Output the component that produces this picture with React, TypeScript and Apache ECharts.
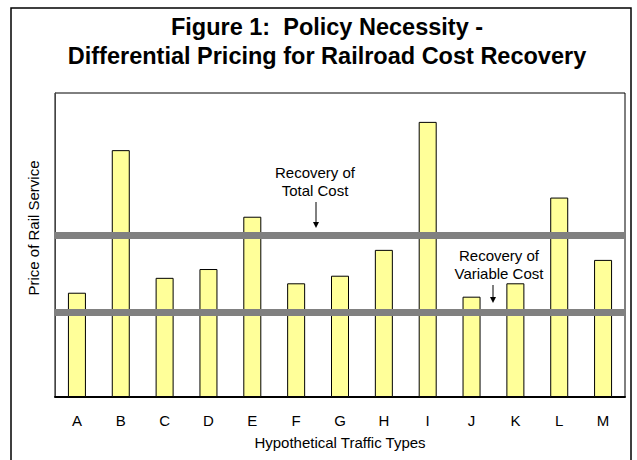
import React, { useEffect, useRef } from "react";
import * as echarts from "echarts";

const categories = ["A", "B", "C", "D", "E", "F", "G", "H", "I", "J", "K", "L", "M"];
const prices = [34.3, 81.2, 39.2, 42.1, 59.3, 37.4, 39.9, 48.4, 90.5, 33.0, 37.4, 65.6, 45.1];
const totalCostLevel = 53.2;
const variableCostLevel = 28.0;
const titleLines = ["Figure 1:  Policy Necessity -", "Differential Pricing for Railroad Cost Recovery"];
const xAxisName = "Hypothetical Traffic Types";
const yAxisName = "Price of Rail Service";
const totalLabel = ["Recovery of", "Total Cost"];
const variableLabel = ["Recovery of", "Variable Cost"];

const FONT = "'Liberation Sans', Arial, Helvetica, sans-serif";

export default function App() {
  const ref = useRef<HTMLDivElement>(null);
  useEffect(() => {
    const chart = echarts.init(ref.current!, null, { renderer: "svg" });
    chart.setOption({
      animation: false,
      backgroundColor: "#fff",
      textStyle: { fontFamily: FONT },
      title: {
        text: titleLines.join("\n"),
        left: 322,
        textAlign: "center",
        top: 8,
        textStyle: { fontFamily: FONT, fontSize: 23.5, fontWeight: "bold", lineHeight: 28.5, color: "#000" },
      },
      grid: { left: 55, right: 12, top: 93, bottom: 63, show: true, borderColor: "#000", borderWidth: 1 },
      xAxis: {
        type: "category",
        data: categories,
        axisTick: { show: false },
        axisLine: { show: true, lineStyle: { color: "#000", width: 2 } },
        axisLabel: { fontSize: 15, color: "#000", margin: 16, fontFamily: FONT },
        name: xAxisName,
        nameLocation: "middle",
        nameGap: 38,
        nameTextStyle: { fontSize: 15, color: "#000", fontFamily: FONT },
      },
      yAxis: {
        type: "value",
        min: 0,
        max: 100,
        splitLine: { show: false },
        axisLabel: { show: false },
        axisTick: { show: false },
        axisLine: { show: true, lineStyle: { color: "#444", width: 1 } },
      },
      series: [
        {
          type: "bar",
          data: prices,
          barWidth: 18,
          itemStyle: { color: "#FFFF99", borderColor: "#000", borderWidth: 1 },
          markLine: {
            silent: true,
            symbol: ["none", "none"],
            label: { show: false },
            lineStyle: { color: "#808080", width: 7, type: "solid" },
            data: [{ yAxis: totalCostLevel }, { yAxis: variableCostLevel }],
          },
        },
      ],
      graphic: [
        {
          type: "rect",
          shape: { x: 11, y: 8, width: 620, height: 470 },
          style: { fill: "none", stroke: "#000", lineWidth: 1.5 },
          silent: true,
        },
        {
          type: "text",
          x: 33,
          y: 228,
          rotation: Math.PI / 2,
          style: { text: yAxisName, fontSize: 15, fontFamily: FONT, fill: "#000", align: "center", verticalAlign: "middle" },
        },
        {
          type: "text",
          x: 315,
          y: 181,
          style: {
            text: totalLabel.join("\n"),
            fontSize: 15,
            lineHeight: 18,
            fontFamily: FONT,
            fill: "#000",
            align: "center",
            verticalAlign: "middle",
          },
        },
        { type: "line", shape: { x1: 316, y1: 202, x2: 316, y2: 223 }, style: { stroke: "#000", lineWidth: 1 } },
        { type: "polygon", shape: { points: [[313, 222], [319, 222], [316, 228]] }, style: { fill: "#000" } },
        {
          type: "text",
          x: 499,
          y: 264,
          style: {
            text: variableLabel.join("\n"),
            fontSize: 15,
            lineHeight: 18,
            fontFamily: FONT,
            fill: "#000",
            align: "center",
            verticalAlign: "middle",
          },
        },
        { type: "line", shape: { x1: 493, y1: 285, x2: 493, y2: 298 }, style: { stroke: "#000", lineWidth: 1 } },
        { type: "polygon", shape: { points: [[490, 297], [496, 297], [493, 303]] }, style: { fill: "#000" } },
      ],
    });
    return () => chart.dispose();
  }, []);
  return <div ref={ref} style={{ position: "absolute", left: 0, top: 0, width: 637, height: 460 }} />;
}
